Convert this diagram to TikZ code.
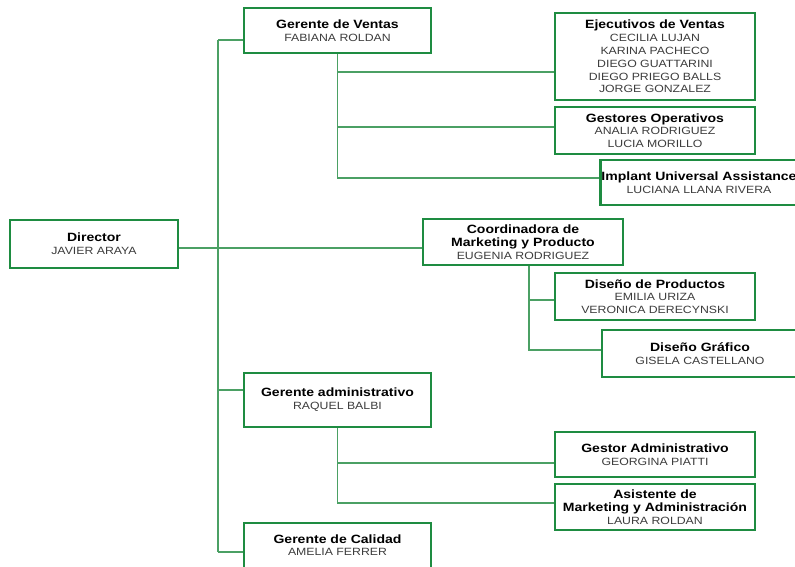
\documentclass[tikz,border=0pt]{standalone}
\usepackage{fontspec}
\setmainfont{Liberation Sans}[FakeStretch=1.17]
\usetikzlibrary{positioning}

\definecolor{verde}{RGB}{30,140,65}
\definecolor{verdelinea}{RGB}{75,160,100}
\definecolor{gris}{RGB}{60,60,60}

\newcommand{\nombres}{\fontsize{10.5}{12.8}\selectfont}
\newcommand{\cargo}[1]{{\fontsize{12}{14.5}\selectfont\bfseries\color{black}#1}}

\tikzset{
  puesto/.style={draw=verde, line width=2.6pt, fill=white, align=center,
    inner sep=1pt, font=\nombres, text=gris},
  linea/.style={draw=verdelinea, line width=1.6pt},
}

\begin{document}
\begin{tikzpicture}[x=1pt,y=-1pt]
  \clip (0,0) rectangle (795,566);
  \fill[white] (0,0) rectangle (795,566);

  % puestos
  \node[puesto, minimum width=168pt, minimum height=48pt] (dir) at (94,244)
    {\cargo{Director}\\JAVIER ARAYA};
  \node[puesto, minimum width=187pt, minimum height=45pt] (gven) at (337.5,30.5)
    {\cargo{Gerente de Ventas}\\FABIANA ROLDAN};
  \node[puesto, minimum width=200pt, minimum height=87pt] (ejec) at (655,56.5)
    {\cargo{Ejecutivos de Ventas}\\CECILIA LUJAN\\KARINA PACHECO\\DIEGO GUATTARINI\\DIEGO PRIEGO BALLS\\JORGE GONZALEZ};
  \node[puesto, minimum width=200pt, minimum height=47pt] (gest) at (655,130.5)
    {\cargo{Gestores Operativos}\\ANALIA RODRIGUEZ\\LUCIA MORILLO};
  \node[puesto, minimum width=196pt, minimum height=45pt] (impl) at (699,182.5)
    {\cargo{Implant Universal Assistance}\\LUCIANA LLANA RIVERA};
  \node[puesto, minimum width=200pt, minimum height=46pt] (coord) at (523,242)
    {\cargo{Coordinadora de}\\\cargo{Marketing y Producto}\\EUGENIA RODRIGUEZ};
  \node[puesto, minimum width=200pt, minimum height=47pt] (dprod) at (655,296.5)
    {\cargo{Diseño de Productos}\\EMILIA URIZA\\VERONICA DERECYNSKI};
  \node[puesto, minimum width=196pt, minimum height=47pt] (dgraf) at (700,353.5)
    {\cargo{Diseño Gráfico}\\GISELA CASTELLANO};
  \node[puesto, minimum width=187pt, minimum height=54pt] (gadm) at (337.5,400)
    {\cargo{Gerente administrativo}\\RAQUEL BALBI};
  \node[puesto, minimum width=200pt, minimum height=45pt] (gestadm) at (655,454.5)
    {\cargo{Gestor Administrativo}\\GEORGINA PIATTI};
  \node[puesto, minimum width=200pt, minimum height=46pt] (asist) at (655,507)
    {\cargo{Asistente de}\\\cargo{Marketing y Administración}\\LAURA ROLDAN};
  \node[puesto, minimum width=187pt, minimum height=54pt] (gcal) at (337.5,550)
    {\cargo{Gerente de Calidad}\\AMELIA FERRER\\[-3pt]};

  % tronco
  \coordinate (tronco) at (218,40);
  \coordinate (tronco fin) at (218,552);
  \draw[linea] (tronco) -- (tronco fin);
  \draw[linea] (tronco) -- (tronco -| gven.west);
  \draw[linea] ([yshift=-4pt]dir.east) -- ([yshift=-4pt]dir.east -| coord.west);
  \draw[linea] ([yshift=10pt]gadm.west -| tronco) -- ([yshift=10pt]gadm.west);
  \draw[linea] (tronco fin) -- (tronco fin -| gcal.west);

  % ventas
  \draw[linea] (gven.south) |- ([yshift=4.5pt]impl.west);
  \draw[linea] ([yshift=-15.5pt]ejec.west -| gven.south) -- ([yshift=-15.5pt]ejec.west);
  \draw[linea] ([yshift=3.5pt]gest.west -| gven.south) -- ([yshift=3.5pt]gest.west);

  % marketing
  \coordinate (mkt) at ([xshift=6pt]coord.south);
  \draw[linea] (mkt) |- ([yshift=3.5pt]dgraf.west);
  \draw[linea] ([yshift=-3.5pt]dprod.west -| mkt) -- ([yshift=-3.5pt]dprod.west);

  % administracion
  \draw[linea] (gadm.south) |- ([yshift=4pt]asist.west);
  \draw[linea] ([yshift=-8.5pt]gestadm.west -| gadm.south) -- ([yshift=-8.5pt]gestadm.west);
\end{tikzpicture}
\end{document}
